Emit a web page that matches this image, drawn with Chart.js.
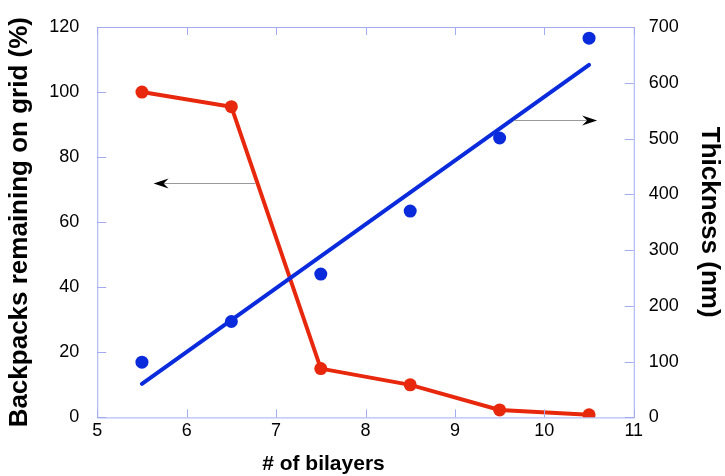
<!DOCTYPE html>
<html>
<head>
<meta charset="utf-8">
<script src="https://cdn.jsdelivr.net/npm/chart.js@4"></script>
<style>
  html, body { margin: 0; padding: 0; background: #fff; }
  #wrap { width: 725px; height: 476px; }
</style>
</head>
<body>
<div id="wrap"><canvas id="chart" width="725" height="476"></canvas></div>
<script>
// values
const bilayers = [5.5, 6.5, 7.5, 8.5, 9.5, 10.5];
const remaining = [100, 95.5, 15, 10, 2.3, 0.8];      // % (left axis)
const thickness = [99, 172, 257, 370, 501, 680];      // nm (right axis)
const fitX = [5.5, 10.5];
const fitY = [60, 632];                               // linear fit, nm
// arrows: [fromX, toX, value] on the given axis
const arrowLeft = [6.77, 5.63, 72.2];
const arrowRight = [9.66, 10.59, 533];
const xTitle = '# of bilayers';

const RED = '#e8280c';
const BLUE = '#0a2bdc';
const FRAME = '#a3acf2';
const FONT = '"Liberation Sans", Arial, sans-serif';

const toPts = (xs, ys) => xs.map((x, i) => ({ x: x, y: ys[i] }));

// frame + inward tick marks + arrows + x title (sits left of centre in the original)
const framePlugin = {
    id: 'frame',
    afterDraw(chart) {
        const { ctx, chartArea: a, scales } = chart;
        ctx.save();
        ctx.strokeStyle = FRAME;
        ctx.lineWidth = 1;
        ctx.strokeRect(a.left + 0.5, a.top + 0.5, a.right - a.left, a.bottom - a.top);
        ctx.beginPath();
        scales.x.ticks.forEach(t => {
            const px = Math.round(scales.x.getPixelForValue(t.value)) + 0.5;
            ctx.moveTo(px, a.bottom); ctx.lineTo(px, a.bottom - 8);
            ctx.moveTo(px, a.top); ctx.lineTo(px, a.top + 8);
        });
        scales.y.ticks.forEach(t => {
            const py = Math.round(scales.y.getPixelForValue(t.value)) + 0.5;
            ctx.moveTo(a.left, py); ctx.lineTo(a.left + 9, py);
        });
        scales.y1.ticks.forEach(t => {
            const py = Math.round(scales.y1.getPixelForValue(t.value)) + 0.5;
            ctx.moveTo(a.right, py); ctx.lineTo(a.right - 9, py);
        });
        ctx.stroke();

        const arrow = (spec, yScale) => {
            const x0 = scales.x.getPixelForValue(spec[0]);
            const x1 = scales.x.getPixelForValue(spec[1]);
            const y = Math.round(yScale.getPixelForValue(spec[2])) + 0.5;
            const dir = Math.sign(x1 - x0);
            ctx.strokeStyle = '#999';
            ctx.lineWidth = 1;
            ctx.beginPath();
            ctx.moveTo(x0, y); ctx.lineTo(x1 - dir * 4, y);
            ctx.stroke();
            ctx.fillStyle = '#000';
            ctx.beginPath();
            ctx.moveTo(x1, y);
            ctx.lineTo(x1 - dir * 15, y - 5);
            ctx.lineTo(x1 - dir * 10, y);
            ctx.lineTo(x1 - dir * 15, y + 5);
            ctx.closePath();
            ctx.fill();
        };
        arrow(arrowLeft, scales.y);
        arrow(arrowRight, scales.y1);

        ctx.fillStyle = '#000';
        ctx.font = 'bold 21px ' + FONT;
        ctx.textAlign = 'center';
        ctx.textBaseline = 'middle';
        ctx.fillText(xTitle, scales.x.getPixelForValue(7.53), a.bottom + 47);
        ctx.restore();
    }
};

Chart.defaults.font.family = FONT;
Chart.defaults.color = '#000';

new Chart(document.getElementById('chart').getContext('2d'), {
    type: 'scatter',
    data: {
        datasets: [
            {
                label: 'Thickness fit',
                data: toPts(fitX, fitY),
                yAxisID: 'y1',
                showLine: true,
                borderColor: BLUE,
                borderWidth: 4,
                pointRadius: 0,
                borderCapStyle: 'round'
            },
            {
                label: 'Thickness',
                data: toPts(bilayers, thickness),
                yAxisID: 'y1',
                backgroundColor: BLUE,
                borderColor: BLUE,
                pointRadius: 6.5,
                borderWidth: 0
            },
            {
                label: 'Backpacks remaining',
                data: toPts(bilayers, remaining),
                yAxisID: 'y',
                showLine: true,
                borderColor: RED,
                backgroundColor: RED,
                borderWidth: 4,
                pointRadius: 6.5,
                pointBorderWidth: 0
            }
        ]
    },
    options: {
        responsive: false,
        animation: false,
        layout: { padding: { left: 0, right: 0, top: 27, bottom: 31 } },
        plugins: { legend: { display: false }, tooltip: { enabled: false } },
        scales: {
            x: {
                type: 'linear',
                min: 5, max: 11,
                ticks: { stepSize: 1, font: { size: 18 }, padding: 3 },
                grid: { display: false, drawTicks: false },
                border: { display: false },
                title: { display: false }
            },
            y: {
                position: 'left',
                min: 0, max: 120,
                ticks: { stepSize: 20, font: { size: 18 }, padding: 10 },
                grid: { display: false },
                border: { display: false },
                title: { display: true, text: 'Backpacks remaining on grid (%)', font: { size: 26, weight: 'bold' }, padding: 4 }
            },
            y1: {
                position: 'right',
                min: 0, max: 700,
                ticks: { stepSize: 100, font: { size: 18 }, padding: 7 },
                grid: { display: false },
                border: { display: false },
                title: { display: true, text: 'Thickness (nm)', font: { size: 26, weight: 'bold' }, padding: { top: 0, bottom: 8 } }
            }
        }
    },
    plugins: [framePlugin]
});
</script>
</body>
</html>
